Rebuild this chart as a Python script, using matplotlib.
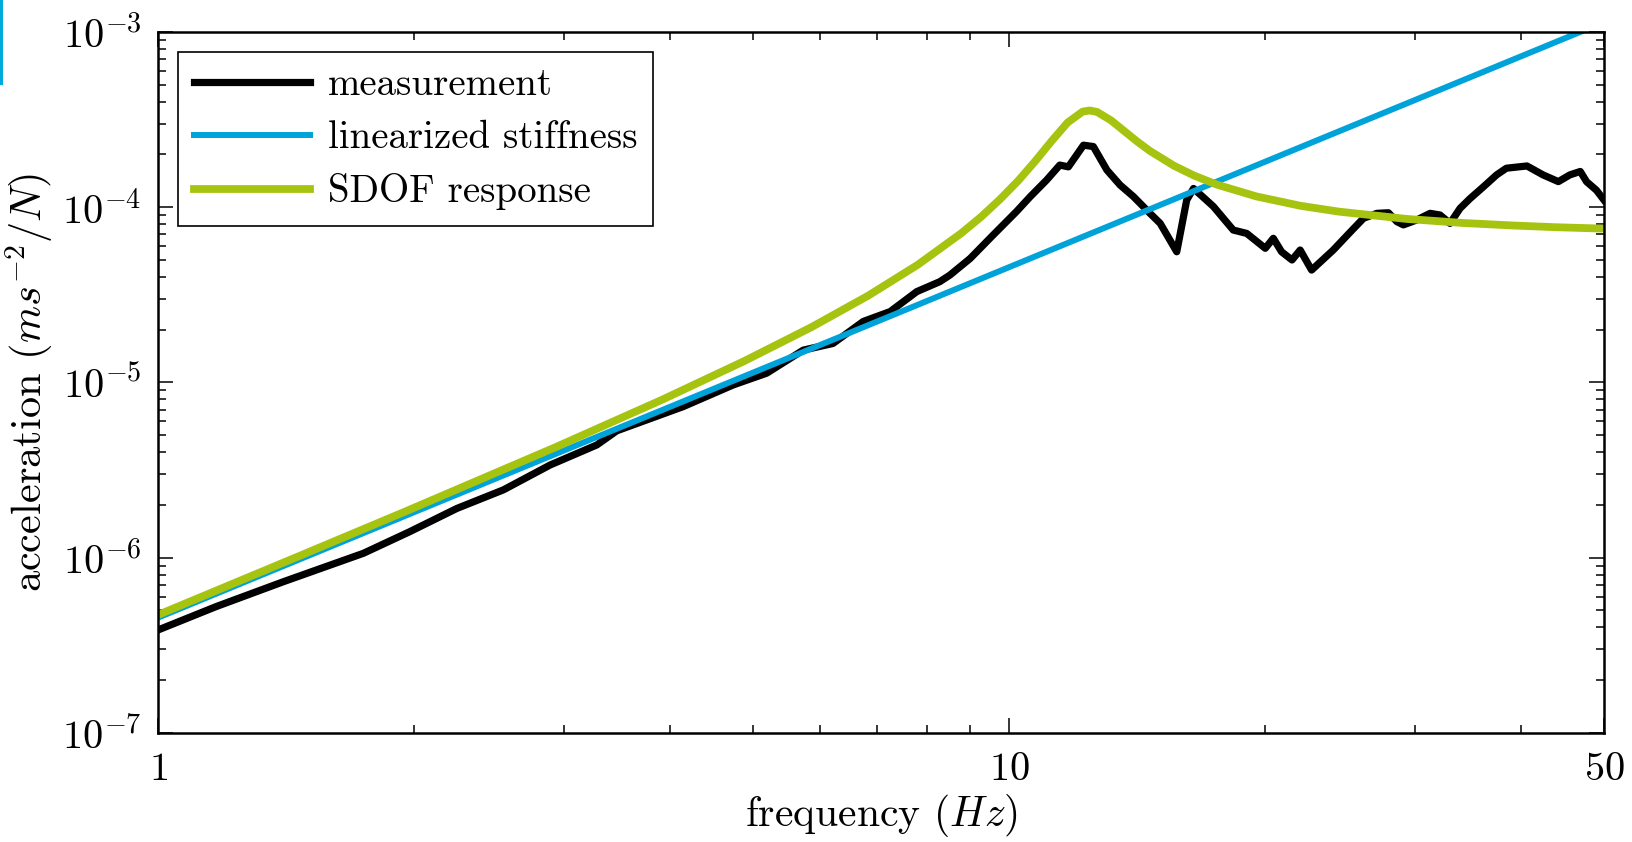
"""Accelerance of the structure: measured FRF vs. linearized stiffness line
and a single degree of freedom fit, on log-log axes.
"""

import math

from matplotlib import pyplot as plt
from matplotlib.patches import Rectangle
from matplotlib.ticker import FixedLocator, FuncFormatter, LogLocator, NullFormatter


meas_freq = [1.0, 1.17, 1.404, 1.743, 1.977, 2.244, 2.546, 2.888, 3.277, 3.46,
             4.14, 4.74, 5.19, 5.73, 6.21, 6.74, 7.25, 7.79, 8.29, 8.52, 9.0,
             9.58, 10.2, 10.59, 11.07, 11.47, 11.74, 12.23, 12.56, 13.03, 13.5,
             14.0, 14.64, 15.05, 15.74, 16.17, 16.47, 17.38, 18.34, 19.02, 20.0,
             20.44, 20.9, 21.5, 21.98, 22.67, 24.04, 25.2, 26.09, 27.05, 27.91,
             28.55, 29.06, 30.13, 31.24, 32.09, 32.97, 33.88, 34.8, 36.1, 37.4,
             38.4, 40.6, 42.4, 44.2, 45.6, 46.9, 47.7, 49.0, 50.0]
meas_accel = [3.87e-7, 5.26e-7, 7.3e-7, 1.06e-6, 1.41e-6, 1.91e-6, 2.44e-6,
              3.38e-6, 4.4e-6, 5.3e-6, 7.28e-6, 9.68e-6, 1.13e-5, 1.53e-5,
              1.67e-5, 2.23e-5, 2.54e-5, 3.3e-5, 3.76e-5, 4.1e-5, 5.1e-5,
              6.95e-5, 9.44e-5, 1.15e-4, 1.43e-4, 1.74e-4, 1.70e-4, 2.26e-4,
              2.22e-4, 1.63e-4, 1.34e-4, 1.15e-4, 9.23e-5, 8.09e-5, 5.57e-5,
              1.10e-4, 1.28e-4, 1.01e-4, 7.41e-5, 7.09e-5, 5.83e-5, 6.65e-5,
              5.57e-5, 5.0e-5, 5.7e-5, 4.38e-5, 5.7e-5, 7.26e-5, 8.65e-5,
              9.23e-5, 9.3e-5, 8.28e-5, 7.93e-5, 8.46e-5, 9.23e-5, 9.03e-5,
              8.09e-5, 9.86e-5, 1.12e-4, 1.31e-4, 1.53e-4, 1.67e-4, 1.72e-4,
              1.53e-4, 1.40e-4, 1.53e-4, 1.60e-4, 1.40e-4, 1.25e-4, 1.10e-4]

# linearized stiffness (straight line in log-log)
stiff_freq = [1.0, 50.0]
stiff_accel = [4.55e-7, 1.1375e-3]

# SDOF response
sdof_freq = [1.0, 1.464, 1.952, 2.928, 3.904, 4.88, 5.856, 6.832, 7.808, 8.784,
             9.27, 9.76, 10.25, 10.736, 11.224, 11.712, 12.2, 12.44, 12.688,
             13.176, 13.664, 14.15, 14.64, 15.616, 16.5, 17.568, 19.52, 22.0,
             24.4, 29.28, 34.16, 39.04, 43.92, 50.0]
sdof_accel = [4.72e-7, 1.021e-6, 1.835e-6, 4.263e-6, 7.941e-6, 1.322e-5,
              2.067e-5, 3.131e-5, 4.692e-5, 7.10e-5, 8.81e-5, 1.111e-4,
              1.417e-4, 1.835e-4, 2.392e-4, 3.039e-4, 3.512e-4, 3.566e-4,
              3.497e-4, 3.131e-4, 2.714e-4, 2.367e-4, 2.095e-4, 1.727e-4,
              1.515e-4, 1.343e-4, 1.153e-4, 1.019e-4, 9.44e-5, 8.58e-5,
              8.13e-5, 7.87e-5, 7.69e-5, 7.55e-5]

x_ticks = [1, 10, 50]
y_ticks = [1e-7, 1e-6, 1e-5, 1e-4, 1e-3]

BLUE = "#00a3d9"
GREEN = "#a6c40f"


def _pow10_label(value, _pos):
    return "$10^{%d}$" % round(math.log10(value))


def main():
    plt.rcParams["font.family"] = "serif"
    plt.rcParams["font.serif"] = ["cmr10"]
    plt.rcParams["mathtext.fontset"] = "cm"
    plt.rcParams["axes.formatter.use_mathtext"] = True

    fig = plt.figure(figsize=(16.33, 8.42), dpi=100)
    ax = fig.add_axes([0.0968, 0.1295, 0.8854, 0.8325])

    ax.plot(meas_freq, meas_accel, color="black", lw=5.2, label="measurement",
            solid_joinstyle="round")
    ax.plot(stiff_freq, stiff_accel, color=BLUE, lw=4.3, label="linearized stiffness")
    ax.plot(sdof_freq, sdof_accel, color=GREEN, lw=5.6, label="SDOF response")

    ax.set_xscale("log")
    ax.set_yscale("log")
    ax.set_xlim(1, 50)
    ax.set_ylim(1e-7, 1e-3)

    ax.xaxis.set_major_locator(FixedLocator(x_ticks))
    ax.xaxis.set_major_formatter(FuncFormatter(lambda v, p: "$%d$" % round(v)))
    ax.xaxis.set_minor_locator(LogLocator(base=10, subs=range(2, 10)))
    ax.xaxis.set_minor_formatter(NullFormatter())
    ax.yaxis.set_major_locator(FixedLocator(y_ticks))
    ax.yaxis.set_major_formatter(FuncFormatter(_pow10_label))
    ax.yaxis.set_minor_locator(LogLocator(base=10, subs=range(2, 10)))
    ax.yaxis.set_minor_formatter(NullFormatter())

    ax.tick_params(which="both", direction="in", top=True, right=True,
                   labelsize=29, width=1.1)
    ax.tick_params(which="major", length=11)
    ax.tick_params(which="minor", length=5.5)
    ax.tick_params(axis="y", pad=12)
    ax.tick_params(axis="x", pad=14)
    for spine in ax.spines.values():
        spine.set_linewidth(1.8)

    ax.set_xlabel("frequency $(Hz)$", fontsize=30, labelpad=3)
    ax.set_ylabel("acceleration $(ms^{-2}/N)$", fontsize=30.5, labelpad=5)

    leg = ax.legend(loc="upper left", bbox_to_anchor=(0.0138, 0.9715),
                    borderaxespad=0, fontsize=28, fancybox=False,
                    edgecolor="black", framealpha=1, handlelength=3.0,
                    handletextpad=0.45, labelspacing=0.44, borderpad=0.4)
    leg.get_frame().set_linewidth(1.2)

    # thin blue marker in the top-left corner of the original
    fig.add_artist(Rectangle((0, 1 - 85 / 842), 3 / 1633, 85 / 842,
                             transform=fig.transFigure, color="#00aadc", lw=0))

    fig.savefig("out.png", dpi=100)


if __name__ == "__main__":
    main()
